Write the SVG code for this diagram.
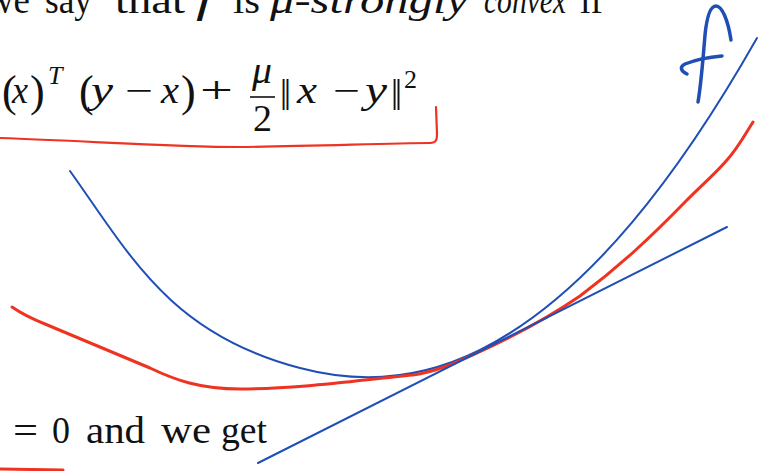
<svg xmlns="http://www.w3.org/2000/svg" width="764" height="471" viewBox="0 0 764 471">
<style>
text{font-family:"Liberation Serif","DejaVu Serif",serif;font-size:37px;fill:#111}
.i{font-style:italic}
.s{font-size:26px}
.p{font-size:44px}
.blue{fill:none;stroke:#1f4fb5;stroke-linecap:round;stroke-linejoin:round}
.red{fill:none;stroke:#ee3322;stroke-linecap:round;stroke-linejoin:round}
</style>
<rect width="764" height="471" fill="#ffffff"/>
<g id="heading">
<text x="-13" y="13" textLength="43" lengthAdjust="spacingAndGlyphs">we</text>
<text x="45" y="13" textLength="47" lengthAdjust="spacingAndGlyphs">say</text>
<text x="115" y="13" textLength="70" lengthAdjust="spacingAndGlyphs">that</text>
<text class="i" x="196" y="13" textLength="17" lengthAdjust="spacingAndGlyphs">f</text>
<text x="233" y="13" textLength="27" lengthAdjust="spacingAndGlyphs">is</text>
<text class="i" x="270" y="13" textLength="198" lengthAdjust="spacingAndGlyphs">μ-strongly</text>
<text class="i" x="484" y="13" textLength="82" lengthAdjust="spacingAndGlyphs">convex</text>
<text x="580" y="13" textLength="23" lengthAdjust="spacingAndGlyphs">if</text>
</g>
<g id="formula">
<text class="p" x="2" y="106">(</text>
<text class="i" x="12" y="103" textLength="16" lengthAdjust="spacingAndGlyphs">x</text>
<text class="p" x="30" y="106">)</text>
<text class="i s" x="48" y="84">T</text>
<text class="p" x="79" y="106">(</text>
<text class="i" x="91" y="103" textLength="22" lengthAdjust="spacingAndGlyphs">y</text>
<text x="125" y="103" textLength="28" lengthAdjust="spacingAndGlyphs">−</text>
<text class="i" x="161" y="103" textLength="18" lengthAdjust="spacingAndGlyphs">x</text>
<text class="p" x="181" y="106">)</text>
<text x="200" y="103" textLength="33" lengthAdjust="spacingAndGlyphs">+</text>
<text class="i" x="252" y="83" textLength="20" lengthAdjust="spacingAndGlyphs">μ</text>
<line x1="250" y1="97" x2="275" y2="97" stroke="#111" stroke-width="1.6"/>
<text x="253" y="131" textLength="19" lengthAdjust="spacingAndGlyphs">2</text>
<text class="p" x="280" y="110" textLength="11" lengthAdjust="spacingAndGlyphs">‖</text>
<text class="i" x="297" y="103" textLength="20" lengthAdjust="spacingAndGlyphs">x</text>
<text x="333" y="103" textLength="27" lengthAdjust="spacingAndGlyphs">−</text>
<text class="i" x="365" y="103" textLength="22" lengthAdjust="spacingAndGlyphs">y</text>
<text class="p" x="391" y="110" textLength="11" lengthAdjust="spacingAndGlyphs">‖</text>
<text class="s" x="404" y="88">2</text>
</g>
<g id="conclusion">
<text x="13" y="443" textLength="25" lengthAdjust="spacingAndGlyphs">=</text>
<text x="52" y="443" textLength="18" lengthAdjust="spacingAndGlyphs">0</text>
<text x="86" y="443" textLength="59" lengthAdjust="spacingAndGlyphs">and</text>
<text x="161" y="443" textLength="50" lengthAdjust="spacingAndGlyphs">we</text>
<text x="221" y="443" textLength="46" lengthAdjust="spacingAndGlyphs">get</text>
</g>
<g id="annotations">
<path class="red" stroke-width="2.2" d="M0,138 C90,141 170,147 240,147 C320,146 390,143 430,143 C436,143 437,140 437,134 L436,107"/>
<path class="red" stroke-width="3" d="M0,469 L63,470"/>
<path class="blue" stroke-width="2" d="M70,171 C130,255 170,334 300,368 C360,384 420,380 480,350 C590,295 682,170 757,38"/>
<path class="red" stroke-width="3" d="M12,307 Q25,316 45,324 L150,368 C175,380 200,389 240,389 C300,389 360,380 413,375 C435,372 455,363 475,354 C510,338 545,320 580,296 C620,266 650,238 687,200 C705,182 715,174 727,160 C738,148 746,133 753,122"/>
<path class="blue" stroke-width="2" d="M258,463 L727,227"/>
<path class="blue" stroke-width="3.5" d="M698,102 C701,85 703,60 705,35 C707,15 711,6 716,6 C722,6 728,20 731,40"/>
<path class="blue" stroke-width="3.5" d="M722,56 C710,57 695,60 685,64 C679,67 681,71 687,74"/>
</g>
</svg>
